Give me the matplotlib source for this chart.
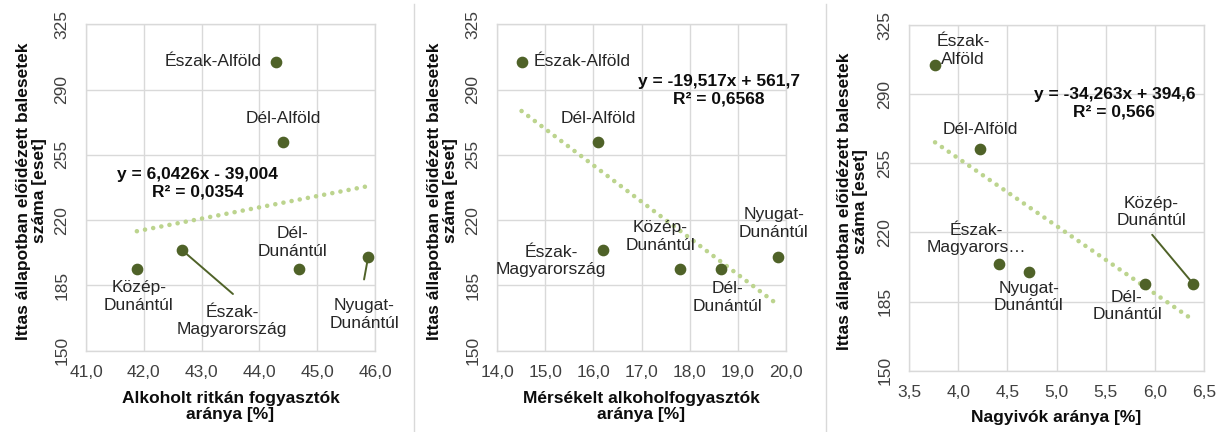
import matplotlib
matplotlib.use('Agg')
from matplotlib import pyplot as plt
from matplotlib.lines import Line2D
import numpy as np

# data
regions = ['Észak-Alföld', 'Dél-Alföld', 'Közép-Dunántúl',
           'Észak-Magyarország', 'Dél-Dunántúl', 'Nyugat-Dunántúl']
accidents = [305, 262, 194, 204, 194, 200]
rare_drinkers = [44.29, 44.41, 41.88, 42.66, 44.69, 45.88]
moderate_drinkers = [14.51, 16.10, 17.79, 16.20, 18.65, 19.83]
heavy_drinkers = [3.765, 4.22, 6.39, 4.42, 5.90, 4.72]

trend_rare = (6.0426, -39.004, 'y = 6,0426x - 39,004\nR² = 0,0354')
trend_moderate = (-19.517, 561.7, 'y = -19,517x + 561,7\nR² = 0,6568')
trend_heavy = (-34.263, 394.6, 'y = -34,263x + 394,6\nR² = 0,566')

y_ticks = [150, 185, 220, 255, 290, 325]
x_ticks_rare = [41.0, 42.0, 43.0, 44.0, 45.0, 46.0]
x_ticks_moderate = [14.0, 15.0, 16.0, 17.0, 18.0, 19.0, 20.0]
x_ticks_heavy = [3.5, 4.0, 4.5, 5.0, 5.5, 6.0, 6.5]

labels_12 = ['Észak-Alföld', 'Dél-Alföld', 'Közép-\nDunántúl',
             'Észak-\nMagyarország', 'Dél-\nDunántúl', 'Nyugat-\nDunántúl']
labels_3 = ['Észak-\nAlföld', 'Dél-Alföld', 'Közép-\nDunántúl',
            'Észak-\nMagyarors…', 'Dél-\nDunántúl', 'Nyugat-\nDunántúl']

POINT = '#4F6228'
TREND = '#BCD48E'
GRID = '#D9D9D9'
TXT = '#262626'
TICK = '#404040'
FS = 12.5

plt.rcParams['font.family'] = ['Liberation Sans', 'DejaVu Sans']

W, H = 1223, 432
fig = plt.figure(figsize=(W / 100, H / 100), dpi=100)


def px_axes(l, r, t, b):
    return fig.add_axes([l / W, 1 - b / H, (r - l) / W, (b - t) / H])


def panel(ax, xs, xticks, trend, labels, offsets, leaders, xlabel, eq_pos,
          ylab_x, xlab_y):
    ax.set_xlim(xticks[0], xticks[-1])
    ax.set_ylim(y_ticks[0], y_ticks[-1])
    ax.set_xticks(xticks)
    ax.set_yticks(y_ticks)
    ax.set_xticklabels([f'{v:.1f}'.replace('.', ',') for v in xticks])
    ax.tick_params(axis='x', length=0, pad=10, labelsize=FS, labelcolor=TICK)
    ax.tick_params(axis='y', length=0, pad=12, labelsize=FS, labelcolor=TICK,
                   labelrotation=90)
    for lab in ax.get_yticklabels():
        lab.set_va('center')
    ax.grid(True, color=GRID, linewidth=1)
    ax.set_axisbelow(True)
    for s in ax.spines.values():
        s.set_color(GRID)
        s.set_linewidth(1)

    # trendline
    a, b, eq = trend
    tx = np.array([min(xs), max(xs)])
    ax.plot(tx, a * tx + b, color=TREND, lw=3.3,
            linestyle=(0, (0.01, 1.8)), dash_capstyle='round', zorder=2)
    ax.text(eq_pos[0], eq_pos[1], eq, transform=ax.transAxes, ha='center',
            va='center', fontsize=FS, fontweight='bold', color='#0d0d0d',
            linespacing=1.2, zorder=4)

    ax.plot(xs, accidents, 'o', color=POINT, markersize=7.4, zorder=3)

    for i, (x, y) in enumerate(zip(xs, accidents)):
        dx, dy, ha = offsets[i]
        ax.annotate(labels[i], (x, y), xytext=(dx, dy),
                    textcoords='offset pixels', ha=ha, va='center',
                    fontsize=FS, color=TXT, linespacing=1.2, zorder=4)
        if i in leaders:
            lx, ly = leaders[i]
            ax.annotate('', (x, y), xytext=(lx, ly), textcoords='offset pixels',
                        arrowprops=dict(arrowstyle='-', color=POINT, lw=1.4,
                                        shrinkA=0, shrinkB=0))

    ax.set_xlabel(xlabel, fontsize=FS, fontweight='bold', color='#0d0d0d',
                  linespacing=1.05)
    ax.set_ylabel('Ittas állapotban előidézett balesetek\nszáma [eset]',
                  fontsize=FS, fontweight='bold', color='#0d0d0d',
                  linespacing=1.05)
    ax.xaxis.set_label_coords(0.5, xlab_y)
    ax.yaxis.set_label_coords(ylab_x, 0.49)
    ax.xaxis.label.set_va('top')


ax1 = px_axes(86, 375, 24.3, 350.7)
panel(ax1, rare_drinkers, x_ticks_rare, trend_rare, labels_12,
      [(-15, 0, 'right'), (0, 23, 'center'), (2, -28, 'center'),
       (50, -71, 'center'), (-7, 26, 'center'), (-4, -57, 'center')],
      {3: (51, -44), 5: (-4, -22)},
      'Alkoholt ritkán fogyasztók\naránya [%]', (0.385, 0.513), -0.135, -0.125)

ax2 = px_axes(497, 786, 24.3, 350.7)
panel(ax2, moderate_drinkers, x_ticks_moderate, trend_moderate, labels_12,
      [(12, 0, 'left'), (0, 23, 'center'), (-19, 32, 'center'),
       (-52, -11, 'center'), (7, -29, 'center'), (-4, 34, 'center')],
      {},
      'Mérsékelt alkoholfogyasztók\naránya [%]', (0.769, 0.797), -0.135, -0.125)

ax3 = px_axes(909, 1204, 25, 370.7)
panel(ax3, heavy_drinkers, x_ticks_heavy, trend_heavy, labels_3,
      [(28, 14, 'center'), (1, 20, 'center'), (-42, 72, 'center'),
       (-23, 25, 'center'), (-18, -22, 'center'), (0, -25, 'center')],
      {2: (-41, 49)},
      'Nagyivók aránya [%]', (0.696, 0.774), -0.139, -0.115)

# thin separators between the panels
for xsep in (414, 826):
    fig.add_artist(Line2D([xsep / W, xsep / W], [0, 1 - 4 / H],
                          transform=fig.transFigure, color=GRID, lw=1))

fig.savefig('out.png', dpi=100)
